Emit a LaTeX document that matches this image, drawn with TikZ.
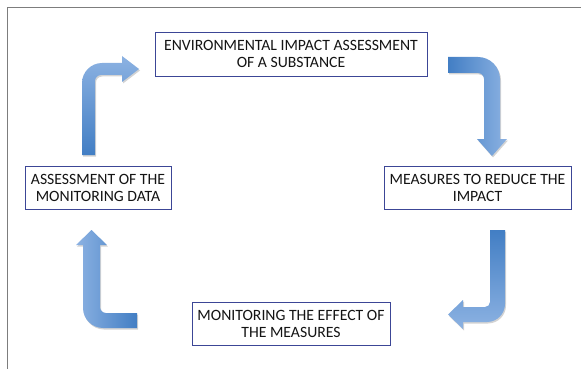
\documentclass[tikz,border=0pt]{standalone}
\usepackage{fontspec}
\setmainfont{Carlito}
\usetikzlibrary{shadows}
\definecolor{arrdark}{RGB}{66,126,196}
\definecolor{arrlight}{RGB}{140,178,226}
\definecolor{boxline}{RGB}{60,70,150}
\definecolor{framegray}{RGB}{125,125,125}
\definecolor{txt}{RGB}{20,20,20}
\tikzset{
  stagebox/.style={draw=boxline, line width=0.8pt, fill=white, rectangle, align=center,
    inner sep=0pt, text=txt, font=\fontsize{15.7}{17}\selectfont},
  blockarrow/.style={drop shadow={shadow xshift=1pt, shadow yshift=-1.5pt, opacity=0.35}}
}
\begin{document}
\begin{tikzpicture}[x=1pt,y=-1pt]
\useasboundingbox (0,0) rectangle (581,369);
% frame
\draw[framegray, line width=1.5pt] (7.5,369) -- (7.5,7.5) -- (581,7.5);

% boxes
\node[stagebox, minimum width=272pt, minimum height=44pt] (eia) at (291,54)
  {ENVIRONMENTAL IMPACT ASSESSMENT\\OF A SUBSTANCE};
\node[stagebox, minimum width=187pt, minimum height=43pt] (measures) at (477.5,187.5)
  {MEASURES TO REDUCE THE\\IMPACT};
\node[stagebox, minimum width=198pt, minimum height=43pt] (monitor) at (291,323.5)
  {MONITORING THE EFFECT OF\\THE MEASURES};
\node[stagebox, minimum width=146pt, minimum height=43pt] (assess) at (98,187.5)
  {ASSESSMENT OF THE\\MONITORING DATA};

% arrow: assessment -> EIA (up then right)
\shade[blockarrow, bottom color=arrdark, top color=arrlight]
  (82,155) -- (82,83) .. controls (82,72) and (91,63) .. (102,63) -- (122,63)
  -- (122,56) -- (139,69) -- (122,82) -- (122,75) -- (101,75)
  .. controls (97.7,75) and (95,77.7) .. (95,81) -- (95,155) -- cycle;

% arrow: EIA -> measures (right then down)
\shade[blockarrow, left color=arrdark, right color=arrlight]
  (448,57) -- (478,57) .. controls (490.1,57) and (500,66.9) .. (500,79) -- (500,139)
  -- (507,139) -- (492,156) -- (477,139) -- (484,139) -- (484,79)
  .. controls (484,75.7) and (481.3,73) .. (478,73) -- (448,73) -- cycle;

% arrow: measures -> monitoring (down then left)
\shade[blockarrow, top color=arrdark, bottom color=arrlight]
  (490,230) -- (505,230) -- (505,304) .. controls (505,313.9) and (496.9,322) .. (487,322)
  -- (463,322) -- (463,329) -- (448,314.5) -- (463,300) -- (463,307) -- (485,307)
  .. controls (487.8,307) and (490,304.8) .. (490,302) -- cycle;

% arrow: monitoring -> assessment (left then up)
\shade[blockarrow, right color=arrdark, left color=arrlight]
  (137,313) -- (106,313) .. controls (102.7,313) and (100,310.3) .. (100,307) -- (100,245)
  -- (107,245) -- (91.5,230) -- (76,245) -- (83,245) -- (83,308)
  .. controls (83,319) and (92,328) .. (103,328) -- (137,328) -- cycle;
\end{tikzpicture}
\end{document}
